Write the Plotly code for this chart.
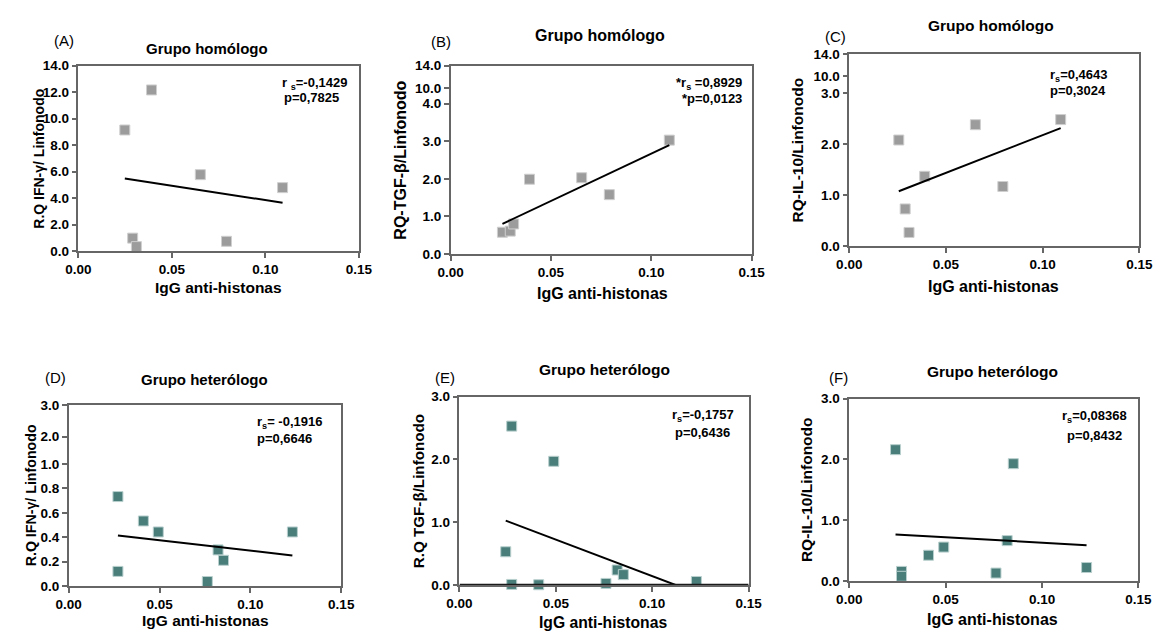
import numpy as np
import plotly.graph_objects as go

# ---------------- data ----------------
x_a = [0.0248, 0.0290, 0.0310, 0.0391, 0.0652, 0.0792, 0.1092]
ifn_hom = [9.14, 0.98, 0.34, 12.16, 5.77, 0.74, 4.79]

x_b = [0.0258, 0.0297, 0.0314, 0.0393, 0.0653, 0.0791, 0.1090]
tgf_hom = [0.58, 0.61, 0.80, 1.99, 2.03, 1.58, 3.03]

x_c = [0.0256, 0.0289, 0.0309, 0.0390, 0.0652, 0.0794, 0.1093]
il10_hom = [2.08, 0.73, 0.27, 1.37, 2.38, 1.17, 2.48]

x_d = [0.0271, 0.0271, 0.0411, 0.0493, 0.0763, 0.0822, 0.0852, 0.1231]
ifn_het = [0.733, 0.12, 0.533, 0.443, 0.037, 0.296, 0.211, 0.443]

x_e = [0.0240, 0.0271, 0.0271, 0.0411, 0.0489, 0.0760, 0.0818, 0.0850, 0.1229]
tgf_het = [0.53, 2.53, 0.01, 0.005, 1.97, 0.026, 0.24, 0.166, 0.057]

x_f = [0.0240, 0.0271, 0.0271, 0.0411, 0.0490, 0.0761, 0.0819, 0.0851, 0.1231]
il10_het = [2.16, 0.16, 0.08, 0.426, 0.56, 0.133, 0.666, 1.93, 0.224]

x_ticks = [0.0, 0.05, 0.10, 0.15]
x_ticktext = ["0.00", "0.05", "0.10", "0.15"]

stats_rs = ["r <sub>s</sub>=-0,1429", "*r<sub>s</sub> =0,8929", "r<sub>s</sub>=0,4643",
            "r<sub>s</sub>= -0,1916", "r<sub>s</sub>=-0,1757", "r<sub>s</sub>=0,08368"]
stats_p = ["p=0,7825", "*p=0,0123", "p=0,3024", "p=0,6646", "p=0,6436", "p=0,8432"]

letters = ["(A)", "(B)", "(C)", "(D)", "(E)", "(F)"]
titles = ["Grupo homólogo"] * 3 + ["Grupo heterólogo"] * 3
ytitles = ["R.Q IFN-γ/ Linfonodo", "RQ-TGF-β/Linfonodo", "RQ-IL-10/Linfonodo",
           "R.Q IFN-γ/ Linfonodo", "R.Q TGF-β/Linfonodo", "RQ-IL-10/Linfonodo"]
xtitle = "IgG anti-histonas"

# y tick labels (broken axes in B, C, D)
yt_a = ["0.0", "2.0", "4.0", "6.0", "8.0", "10.0", "12.0", "14.0"]
yt_b = ["0.0", "1.0", "2.0", "3.0", "4.0", "10.0", "14.0"]
yt_c = ["0.0", "1.0", "2.0", "3.0", "10.0", "14.0"]
yt_d = ["0.0", "0.2", "0.4", "0.6", "0.8", "1.0", "2.0", "3.0"]
yt_e = ["0.0", "1.0", "2.0", "3.0"]
yt_f = ["0.0", "1.0", "2.0", "3.0"]

# ---------------- layout geometry (pixels) ----------------
W, H = 1171, 637
FONT = "Liberation Sans, Arial, sans-serif"
GRAY = "#9c9c9c"
TEAL = "#4a7e7b"

panels = [
    dict(x=x_a, y=ifn_hom, box=(67, 354, 60, 250), yrange=14.0,
         ytv=[0, 2, 4, 6, 8, 10, 12, 14], ytt=yt_a, color=GRAY, edge="#cfcfcf",
         letter=(52, 34), title=(199, 43), ts=15, ytitle=27, ys=14.0,
         xtitle=(210, 287), xs=15.5,
         rs=(309, 78, "center"), p=(306, 93, "center")),
    dict(x=x_b, y=tgf_hom, box=(448, 756, 60, 253), yrange=5.013,
         ytv=[0, 1, 2, 3, 4, 4.416, 5.013], ytt=yt_b, color=GRAY, edge="#cfcfcf",
         letter=(438, 35), title=(601, 29), ts=16, ytitle=397, ys=16.0,
         xtitle=(603, 293), xs=16,
         rs=(748, 78, "right"), p=(748, 94, "right")),
    dict(x=x_c, y=il10_hom, box=(856, 1153, 48, 245), yrange=3.767,
         ytv=[0, 1, 2, 3, 3.327, 3.767], ytt=yt_c, color=GRAY, edge="#cfcfcf",
         letter=(842, 30), title=(1001, 19), ts=15.5, ytitle=803, ys=15.5,
         xtitle=(1004, 286), xs=16,
         rs=(1059, 70, "left"), p=(1059, 86, "left")),
    dict(x=x_d, y=ifn_het, box=(57, 336, 408, 593), yrange=1.48,
         ytv=[0, 0.2, 0.4, 0.6, 0.8, 1.0, 1.224, 1.48], ytt=yt_d, color=TEAL, edge="#b9d0ce",
         letter=(43, 379), title=(196, 381), ts=15, ytitle=18, ys=14.2,
         xtitle=(197, 628), xs=15.5,
         rs=(248, 426, "left"), p=(248, 442, "left")),
    dict(x=x_e, y=tgf_het, box=(457, 753, 399, 592), yrange=3.0,
         ytv=[0, 1, 2, 3], ytt=yt_e, color=TEAL, edge="#b9d0ce",
         letter=(442, 379), title=(605, 371), ts=15.5, ytitle=415, ys=15.2,
         xtitle=(604, 630), xs=15.7,
         rs=(706, 418, "center"), p=(706, 436, "center")),
    dict(x=x_f, y=il10_het, box=(856, 1152, 401, 588), yrange=3.0,
         ytv=[0, 1, 2, 3], ytt=yt_f, color=TEAL, edge="#b9d0ce",
         letter=(845, 379), title=(1003, 373), ts=15.5, ytitle=813, ys=15.5,
         xtitle=(1003, 627), xs=16,
         rs=(1107, 419, "center"), p=(1107, 439, "center")),
]


def fx(px):
    return px / W


def fy(py):
    return 1 - py / H


fig = go.Figure()
annotations = []
shapes = []
layout_axes = {}
AXCOL = "#666666"

for i, pnl in enumerate(panels, start=1):
    xs = "x" if i == 1 else f"x{i}"
    ys = "y" if i == 1 else f"y{i}"
    x0, x1, y0, y1 = pnl["box"]

    fig.add_trace(go.Scatter(
        x=pnl["x"], y=pnl["y"], mode="markers", xaxis=xs, yaxis=ys,
        marker=dict(symbol="square", size=10, color=pnl["color"],
                    line=dict(color=pnl["edge"], width=1)),
        cliponaxis=False, showlegend=False, hoverinfo="skip"))

    slope, icpt = np.polyfit(pnl["x"], pnl["y"], 1)
    lx = np.array([min(pnl["x"]), max(pnl["x"])])
    fig.add_trace(go.Scatter(
        x=lx, y=slope * lx + icpt, mode="lines", xaxis=xs, yaxis=ys,
        line=dict(color="black", width=2), showlegend=False, hoverinfo="skip"))

    xkey = "xaxis" if i == 1 else f"xaxis{i}"
    ykey = "yaxis" if i == 1 else f"yaxis{i}"
    tf = dict(family=FONT, size=13.5, color="black", weight="bold")
    layout_axes[xkey] = dict(
        domain=[fx(x0), fx(x1)], anchor=ys, range=[0, 0.15],
        tickvals=x_ticks, ticktext=x_ticktext, ticks="outside", ticklen=5,
        tickwidth=1.5, tickcolor=AXCOL, showline=True, linecolor=AXCOL,
        linewidth=1.5, mirror=True, showgrid=False, zeroline=False,
        tickfont=tf, fixedrange=True)
    layout_axes[ykey] = dict(
        domain=[fy(y1), fy(y0)], anchor=xs, range=[0, pnl["yrange"]],
        tickvals=pnl["ytv"], ticktext=pnl["ytt"], ticks="outside", ticklen=5,
        tickwidth=1.5, tickcolor=AXCOL, showline=True, linecolor=AXCOL,
        linewidth=1.5, mirror=True, showgrid=False, zeroline=False,
        tickfont=tf, fixedrange=True)

    if i == 5:
        # darker baseline along y = 0 in panel E
        shapes.append(dict(type="line", xref=xs, yref=ys, x0=0, x1=0.15, y0=0, y1=0,
                           line=dict(color="#1a1a1a", width=2.5)))

    annotations.append(dict(text=letters[i - 1], x=fx(pnl["letter"][0]), y=fy(pnl["letter"][1]),
                            xref="paper", yref="paper", showarrow=False, xanchor="center",
                            yanchor="middle", font=dict(family=FONT, size=15, color="black")))
    annotations.append(dict(text="<b>" + titles[i - 1] + "</b>", x=fx(pnl["title"][0]),
                            y=fy(pnl["title"][1]), xref="paper", yref="paper", showarrow=False,
                            xanchor="center", yanchor="middle",
                            font=dict(family=FONT, size=pnl["ts"], color="black")))
    annotations.append(dict(text="<b>" + ytitles[i - 1] + "</b>", x=fx(pnl["ytitle"]),
                            y=fy((y0 + y1) / 2), xref="paper", yref="paper", showarrow=False,
                            textangle=-90, xanchor="center", yanchor="middle",
                            font=dict(family=FONT, size=pnl["ys"], color="black")))
    annotations.append(dict(text="<b>" + xtitle + "</b>", x=fx(pnl["xtitle"][0]),
                            y=fy(pnl["xtitle"][1]), xref="paper", yref="paper", showarrow=False,
                            xanchor="center", yanchor="middle",
                            font=dict(family=FONT, size=pnl["xs"], color="black")))
    for key, txt in (("rs", stats_rs[i - 1]), ("p", stats_p[i - 1])):
        px_, py_, anc = pnl[key]
        annotations.append(dict(text="<b>" + txt + "</b>", x=fx(px_), y=fy(py_),
                                xref="paper", yref="paper", showarrow=False,
                                xanchor=anc, yanchor="middle",
                                font=dict(family=FONT, size=13, color="black")))

fig.update_layout(
    width=W, height=H, margin=dict(l=0, r=0, t=0, b=0),
    paper_bgcolor="white", plot_bgcolor="white",
    font=dict(family=FONT, color="black"),
    annotations=annotations, shapes=shapes, showlegend=False,
    **layout_axes)

fig.write_html("out.html", config=dict(displayModeBar=False),
               post_script="document.body.style.margin='0px';"
                           "document.documentElement.style.overflow='hidden';")
